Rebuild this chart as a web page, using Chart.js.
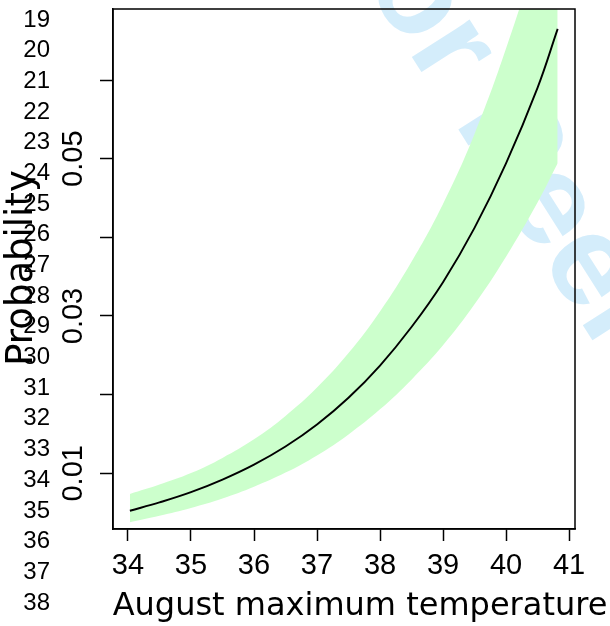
<!DOCTYPE html>
<html>
<head>
<meta charset="utf-8">
<script src="https://cdn.jsdelivr.net/npm/chart.js@4"></script>
<style>
  html, body { margin: 0; padding: 0; background: #fff; }
</style>
</head>
<body>
<canvas id="probChart" width="610" height="626"></canvas>
<script>
// values
const temps = [34.03, 34.5, 35, 35.5, 36, 36.5, 37, 37.5, 38, 38.5, 39, 39.5, 40, 40.5, 40.82];
const probFit = [0.00524, 0.0063, 0.0076, 0.0092, 0.0111, 0.0134, 0.0162, 0.0196, 0.0237, 0.0286, 0.0343, 0.0412, 0.0494, 0.0590, 0.0665];
const probUpper = [0.00737, 0.00857, 0.01003, 0.01196, 0.01432, 0.01729, 0.0209, 0.02528, 0.03057, 0.03689, 0.04425, 0.05315, 0.0640, 0.0767, 0.0871];
const probLower = [0.00377, 0.0046, 0.0056, 0.0068, 0.00829, 0.01009, 0.01228, 0.01495, 0.01813, 0.02191, 0.02627, 0.03148, 0.03754, 0.04443, 0.04941];

const xTicks = [34, 35, 36, 37, 38, 39, 40, 41];
const yTicks = [0.01, 0.02, 0.03, 0.04, 0.05, 0.06];
const yTickLabels = ['0.01', '', '0.03', '', '0.05', ''];

const lineNumbers = ['19', '20', '21', '22', '23', '24', '25', '26', '27', '28',
                     '29', '30', '31', '32', '33', '34', '35', '36', '37', '38'];

const toPoints = ys => temps.map((t, i) => ({ x: t, y: ys[i] }));

const pagePlugin = {
    id: 'page',
    beforeDraw(chart) {
        const ctx = chart.ctx;
        ctx.save();
        ctx.fillStyle = '#fff';
        ctx.fillRect(0, 0, chart.width, chart.height);
        // watermark
        ctx.fillStyle = 'rgb(212,237,251)';
        ctx.font = 'bold 130px "Liberation Sans"';
        ctx.textAlign = 'left';
        ctx.textBaseline = 'middle';
        ctx.translate(352, -104);
        ctx.rotate(57.5 * Math.PI / 180);
        ctx.fillText('For Peer Review', 0, 0);
        ctx.restore();
    },
    afterDatasetsDraw(chart) {
        const ctx = chart.ctx;
        const a = chart.chartArea;
        ctx.save();
        ctx.strokeStyle = '#000';
        ctx.lineWidth = 1.5;
        ctx.strokeRect(a.left, a.top, a.right - a.left, a.bottom - a.top);
        ctx.restore();
    },
    afterDraw(chart) {
        const ctx = chart.ctx;
        ctx.save();
        ctx.fillStyle = '#000';
        // manuscript line numbers
        ctx.font = '24px "Liberation Sans"';
        ctx.textAlign = 'right';
        ctx.textBaseline = 'middle';
        lineNumbers.forEach((n, i) => ctx.fillText(n, 50, 20 + i * 30.68));
        // axis titles
        ctx.font = '32px "DejaVu Sans"';
        ctx.textAlign = 'center';
        ctx.textBaseline = 'alphabetic';
        ctx.fillText('August maximum temperature', 360, 615);
        ctx.translate(32, 268);
        ctx.rotate(-Math.PI / 2);
        ctx.font = '37px "DejaVu Sans"';
        ctx.fillText('Probability', 0, 0);
        ctx.restore();
    }
};

new Chart(document.getElementById('probChart'), {
    type: 'line',
    data: {
        datasets: [
            {
                data: toPoints(probUpper),
                order: 1,
                borderWidth: 0,
                pointRadius: 0,
                backgroundColor: 'rgb(204,255,204)',
                fill: '+1',
                tension: 0.4
            },
            {
                data: toPoints(probLower),
                order: 1,
                borderWidth: 0,
                pointRadius: 0,
                fill: false,
                tension: 0.4
            },
            {
                data: toPoints(probFit),
                order: 0,
                borderColor: '#000',
                borderWidth: 1.9,
                pointRadius: 0,
                fill: false,
                tension: 0.4
            }
        ]
    },
    options: {
        responsive: false,
        animation: false,
        devicePixelRatio: 1,
        layout: { padding: { top: 9, right: 35, left: 0, bottom: 0 } },
        plugins: {
            legend: { display: false },
            tooltip: { enabled: false }
        },
        scales: {
            x: {
                type: 'linear',
                min: 33.762,
                max: 41.095,
                afterBuildTicks: s => { s.ticks = xTicks.map(v => ({ value: v })); },
                afterFit: s => { s.height = 97; s.paddingLeft = 0; s.paddingRight = 0; },
                grid: { drawOnChartArea: false, drawTicks: true, tickLength: 12, tickColor: '#000', tickWidth: 1.5 },
                border: { display: true, color: '#000', width: 1.5 },
                ticks: {
                    color: '#000',
                    font: { family: 'Liberation Sans', size: 29 },
                    padding: 8,
                    maxRotation: 0,
                    autoSkip: false,
                    callback: v => String(v)
                }
            },
            y: {
                type: 'linear',
                min: 0.00292,
                max: 0.06903,
                afterBuildTicks: s => { s.ticks = yTicks.map(v => ({ value: v })); },
                afterFit: s => { s.width = 113; s.paddingTop = 0; s.paddingBottom = 0; },
                grid: { drawOnChartArea: false, drawTicks: true, tickLength: 13, tickColor: '#000', tickWidth: 1.5 },
                border: { display: true, color: '#000', width: 1.5 },
                ticks: {
                    color: '#000',
                    font: { family: 'Liberation Sans', size: 29 },
                    minRotation: 90,
                    maxRotation: 90,
                    crossAlign: 'center',
                    padding: -2,
                    autoSkip: false,
                    callback: (v, i) => yTickLabels[i]
                }
            }
        }
    },
    plugins: [pagePlugin]
});
</script>
</body>
</html>
